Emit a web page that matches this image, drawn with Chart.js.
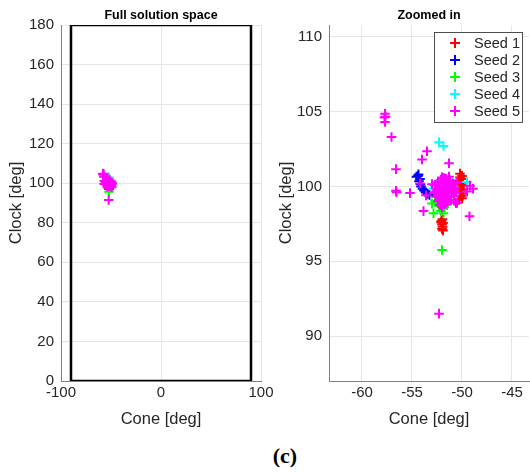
<!DOCTYPE html>
<html>
<head>
<meta charset="utf-8">
<script src="https://cdn.jsdelivr.net/npm/chart.js@4.4.1/dist/chart.umd.min.js"></script>
<style>
  html, body { margin: 0; padding: 0; background: #fff; }
  #wrap { position: relative; width: 530px; height: 473px; overflow: hidden; }
  canvas { position: absolute; top: 0; }
  #full { left: 0; }
  #zoom { left: 270px; }
  #caption {
    position: absolute; left: 0; width: 570px; top: 443px;
    text-align: center; font: bold 22px "Liberation Serif", serif; color: #000;
  }
</style>
</head>
<body>
<div id="wrap">
  <canvas id="full" width="280" height="441"></canvas>
  <canvas id="zoom" width="260" height="441"></canvas>
  <div id="caption">(c)</div>
</div>
<script>
const seedLabels = ["Seed 1", "Seed 2", "Seed 3", "Seed 4", "Seed 5"];
const seedColors = ["#ff0000", "#0000ff", "#00ff00", "#00ffff", "#ff00ff"];

// cone / clock in degrees
const seed1Cone  = [-50.2, -50.0, -50.2, -49.9, -50.3, -50.0, -50.1, -49.9, -50.2, -50.0, -50.1, -49.9, -50.1, -50.0, -50.3, -50.6,
                    -51.95, -52.05, -51.9, -52.0, -51.95, -52.0, -51.9, -52.1];
const seed1Clock = [100.85, 100.7, 100.6, 100.5, 100.4, 100.3, 100.15, 100.05, 99.9, 99.8, 99.65, 99.5, 99.35, 99.2, 99.1, 98.9,
                    97.8, 97.7, 97.55, 97.45, 97.3, 97.15, 97.05, 97.6];

const seed2Cone  = [-54.35, -54.55, -54.4, -54.2, -54.3, -54.15, -54.1, -53.95, -53.8, -53.65, -53.45, -53.25];
const seed2Clock = [100.8, 100.65, 100.7, 100.5, 100.35, 100.15, 100.0, 99.85, 99.72, 99.6, 99.5, 99.42];

const seed3Cone  = [-52.0, -52.85, -51.85, -53.0, -52.5, -52.1, -51.8, -51.4, -51.5, -52.3, -52.7, -51.9];
const seed3Clock = [95.75, 98.2, 98.2, 98.85, 98.95, 98.35, 98.6, 98.9, 98.75, 98.7, 99.0, 99.1];

const seed4Cone  = [-52.3, -51.85, -52.7, -52.85, -49.5, -52.5, -51.0];
const seed4Clock = [102.95, 102.7, 99.95, 99.85, 100.3, 100.1, 100.2];

const seed5Cone  = [-57.7, -57.65, -57.75, -57.7, -57.05, -56.6, -56.6, -56.55, -55.2, -54.0, -53.5, -51.3, -53.85, -52.3,
                    -49.25, -49.2, -49.5, -48.9, -50.5, -54.2, -53.6,
                    -52.0, -51.6, -51.2, -52.4, -51.9, -51.4, -50.9, -52.7, -52.2, -51.7, -51.2, -50.7, -52.5, -52.0,
                    -51.5, -51.0, -50.6, -52.8, -52.3, -51.8, -51.3, -50.8, -52.6, -52.1, -51.6, -51.1, -52.4, -51.9,
                    -52.2, -52.0, -51.5, -53.0, -50.5, -51.3, -50.8,
                    -51.8, -51.5, -52.1, -51.1, -51.6, -52.3, -51.9, -51.4, -52.0, -51.5, -51.8, -52.3, -51.7, -50.9,
                    -52.6, -51.3];
const seed5Clock = [104.85, 104.65, 104.6, 104.3, 103.3, 101.15, 99.7, 99.6, 99.55, 101.8, 102.35, 101.55, 98.35, 91.5,
                    98.0, 100.05, 99.65, 99.85, 98.9, 100.2, 99.4,
                    100.6, 100.5, 100.4, 100.3, 100.3, 100.2, 100.2, 100.1, 100.05, 100.0, 99.95, 99.9, 99.8, 99.75,
                    99.7, 99.7, 99.6, 99.55, 99.5, 99.45, 99.4, 99.35, 99.3, 99.2, 99.15, 99.1, 99.0, 98.9,
                    98.75, 98.6, 98.95, 100.15, 100.3, 100.65, 99.05,
                    100.55, 100.35, 100.45, 100.1, 99.9, 99.9, 99.6, 99.55, 99.35, 99.3, 99.05, 99.1, 98.8, 99.55,
                    99.65, 99.85];

const seedCone  = [seed1Cone, seed2Cone, seed3Cone, seed4Cone, seed5Cone];
const seedClock = [seed1Clock, seed2Clock, seed3Clock, seed4Clock, seed5Clock];

// admissible region drawn on the full panel
const boundaryCone  = [-90, -90, 90, 90, -90];
const boundaryClock = [0, 180, 180, 0, 0];

const fullConeTicks  = [-100, 0, 100];
const fullClockTicks = [0, 20, 40, 60, 80, 100, 120, 140, 160, 180];
const zoomConeTicks  = [-60, -55, -50, -45];
const zoomClockTicks = [90, 95, 100, 105, 110];

const FONT = '"Liberation Sans", Arial, sans-serif';
const TXT = "#262626";

function pts(xs, ys) {
  return xs.map((x, i) => ({ x: x, y: ys[i] }));
}

function seedSets() {
  return seedLabels.map((lab, i) => ({
    label: lab,
    data: pts(seedCone[i], seedClock[i]),
    pointStyle: "cross",
    pointRadius: 4.8,
    pointBorderWidth: 2,
    borderColor: seedColors[i],
    backgroundColor: seedColors[i],
    order: 5 - i, // later seeds on top, like matlab
  }));
}

function axis(min, max, tickVals, title, vertical, size) {
  return {
    type: "linear",
    position: vertical ? "left" : "bottom",
    min: min,
    max: max,
    afterBuildTicks: (s) => { s.ticks = tickVals.map((v) => ({ value: v })); },
    afterFit: (s) => { if (vertical) s.width = size; else s.height = size; },
    grid: { color: "#e6e6e6", lineWidth: 1, drawTicks: false },
    border: { color: "#808080", width: 1 },
    ticks: {
      color: TXT,
      font: { family: FONT, size: 15 },
      padding: vertical ? 7 : 3,
      maxRotation: 0,
      autoSkip: false,
    },
    title: {
      display: true,
      text: title,
      color: TXT,
      font: { family: FONT, size: 16.5 },
      padding: vertical ? { top: 7, bottom: 0 } : { top: 0, bottom: 12 },
    },
  };
}

const panelTitle = {
  id: "panelTitle",
  afterDraw(chart, args, opts) {
    const { ctx, chartArea } = chart;
    ctx.save();
    ctx.font = "bold 12.5px " + FONT;
    ctx.fillStyle = "#000";
    ctx.textAlign = "center";
    ctx.textBaseline = "middle";
    ctx.fillText(opts.text, (chartArea.left + chartArea.right) / 2, chartArea.top - 9);
    ctx.restore();
  },
};

const boxLegend = {
  id: "boxLegend",
  afterDatasetsDraw(chart, args, opts) {
    if (!opts.show) return;
    const { ctx, chartArea } = chart;
    const x0 = chartArea.right - 95, y0 = chartArea.top + 7, w = 88, h = 90;
    ctx.save();
    ctx.fillStyle = "#fff";
    ctx.fillRect(x0, y0, w, h);
    ctx.strokeStyle = "#4d4d4d";
    ctx.lineWidth = 1;
    ctx.strokeRect(x0 + 0.5, y0 + 0.5, w, h);
    ctx.font = "14.5px " + FONT;
    ctx.textBaseline = "middle";
    ctx.textAlign = "left";
    chart.data.datasets.forEach((ds, i) => {
      const cy = y0 + 11 + i * 17;
      const cx = x0 + 21;
      ctx.strokeStyle = ds.borderColor;
      ctx.lineWidth = 2;
      ctx.beginPath();
      ctx.moveTo(cx - 5, cy); ctx.lineTo(cx + 5, cy);
      ctx.moveTo(cx, cy - 5); ctx.lineTo(cx, cy + 5);
      ctx.stroke();
      ctx.fillStyle = TXT;
      ctx.fillText(ds.label, x0 + 40, cy + 1);
    });
    ctx.restore();
  },
};

Chart.register(panelTitle, boxLegend);

const common = {
  responsive: false,
  animation: false,
  events: [],
};

const fullSets = seedSets();
fullSets.push({
  label: "boundary",
  data: pts(boundaryCone, boundaryClock),
  showLine: true,
  pointRadius: 0,
  borderColor: "#000",
  borderWidth: 2.5,
  order: 0,
});

new Chart(document.getElementById("full"), {
  type: "scatter",
  data: { datasets: fullSets },
  options: {
    ...common,
    layout: { autoPadding: false, padding: { top: 25, right: 19, left: 0, bottom: 0 } },
    scales: {
      x: axis(-100, 100, fullConeTicks, "Cone [deg]", false, 60),
      y: axis(0, 180, fullClockTicks, "Clock [deg]", true, 61),
    },
    plugins: {
      legend: { display: false },
      tooltip: { enabled: false },
      panelTitle: { text: "Full solution space" },
      boxLegend: { show: false },
    },
  },
});

new Chart(document.getElementById("zoom"), {
  type: "scatter",
  data: { datasets: seedSets() },
  options: {
    ...common,
    layout: { autoPadding: false, padding: { top: 25, right: 1, left: 0, bottom: 0 } },
    scales: {
      x: axis(-63.3, -43.3, zoomConeTicks, "Cone [deg]", false, 60),
      y: axis(87, 110.78, zoomClockTicks, "Clock [deg]", true, 59),
    },
    plugins: {
      legend: { display: false },
      tooltip: { enabled: false },
      panelTitle: { text: "Zoomed in" },
      boxLegend: { show: true },
    },
  },
});
</script>
</body>
</html>
